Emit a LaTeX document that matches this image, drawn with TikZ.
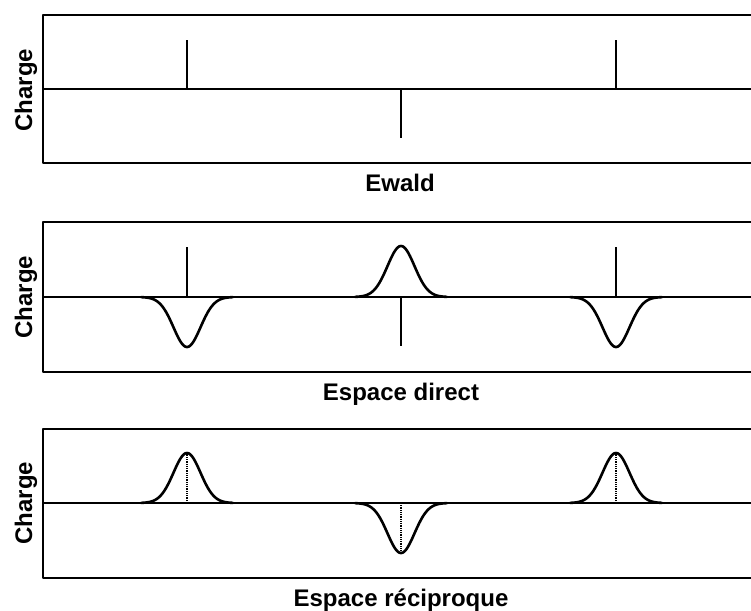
\documentclass[tikz,border=0pt]{standalone}
\usepackage{fontspec}
\setmainfont{Liberation Sans}
\begin{document}
\begin{tikzpicture}[x=1pt,y=-1pt,
  frame/.style={line width=2.6pt, line join=round},
  spike/.style={line width=2.4pt},
  gauss/.style={line width=2.6pt, line join=round, line cap=round},
  dotline/.style={line width=1.4pt, dash pattern=on 1pt off 0.8pt},
  lbl/.style={font=\fontsize{24}{28}\selectfont\bfseries, inner sep=0pt, anchor=base},
  ylbl/.style={lbl, rotate=90}]
\useasboundingbox (0,0) rectangle (751,610);
\clip (0,0) rectangle (751,610);
% sigma
\def\sg{13.5}
% ---------- Panel 1 : Ewald ----------
\draw[frame] (760,15) -- (43,15) -- (43,163) -- (760,163);
\draw[frame] (43,89) -- (760,89);
\draw[spike] (187,89) -- (187,40);
\draw[spike] (616,89) -- (616,40);
\draw[spike] (401,89) -- (401,138);
\node[ylbl] (c1) at (32,90) {Charge};
\node[lbl] (t1) at (400,191) {Ewald};
% ---------- Panel 2 : Espace direct ----------
\draw[frame] (760,222) -- (43,222) -- (43,372) -- (760,372);
\draw[frame] (43,297) -- (760,297);
\draw[spike] (187,297) -- (187,247);
\draw[spike] (616,297) -- (616,247);
\draw[spike] (401,297) -- (401,346);
\draw[gauss] plot[domain=-46:46, samples=93, smooth] ({187+\x},{297+50*exp(-(\x)*(\x)/(2*\sg*\sg))});
\draw[gauss] plot[domain=-46:46, samples=93, smooth] ({616+\x},{297+50*exp(-(\x)*(\x)/(2*\sg*\sg))});
\draw[gauss] plot[domain=-46:46, samples=93, smooth] ({401+\x},{297-51*exp(-(\x)*(\x)/(2*\sg*\sg))});
\node[ylbl] (c2) at (32,297) {Charge};
\node[lbl] (t2) at (401,400) {Espace direct};
% ---------- Panel 3 : Espace réciproque ----------
\draw[frame] (760,429) -- (43,429) -- (43,578) -- (760,578);
\draw[frame] (43,503) -- (760,503);
\draw[dotline] (187,503) -- (187,454);
\draw[dotline] (616,503) -- (616,454);
\draw[dotline] (401,503) -- (401,552);
\draw[gauss] plot[domain=-46:46, samples=93, smooth] ({187+\x},{503-50*exp(-(\x)*(\x)/(2*\sg*\sg))});
\draw[gauss] plot[domain=-46:46, samples=93, smooth] ({616+\x},{503-50*exp(-(\x)*(\x)/(2*\sg*\sg))});
\draw[gauss] plot[domain=-46:46, samples=93, smooth] ({401+\x},{503+50*exp(-(\x)*(\x)/(2*\sg*\sg))});
\node[ylbl] (c3) at (32,503) {Charge};
\node[lbl] (t3) at (401,606) {Espace réciproque};
\end{tikzpicture}
\end{document}
